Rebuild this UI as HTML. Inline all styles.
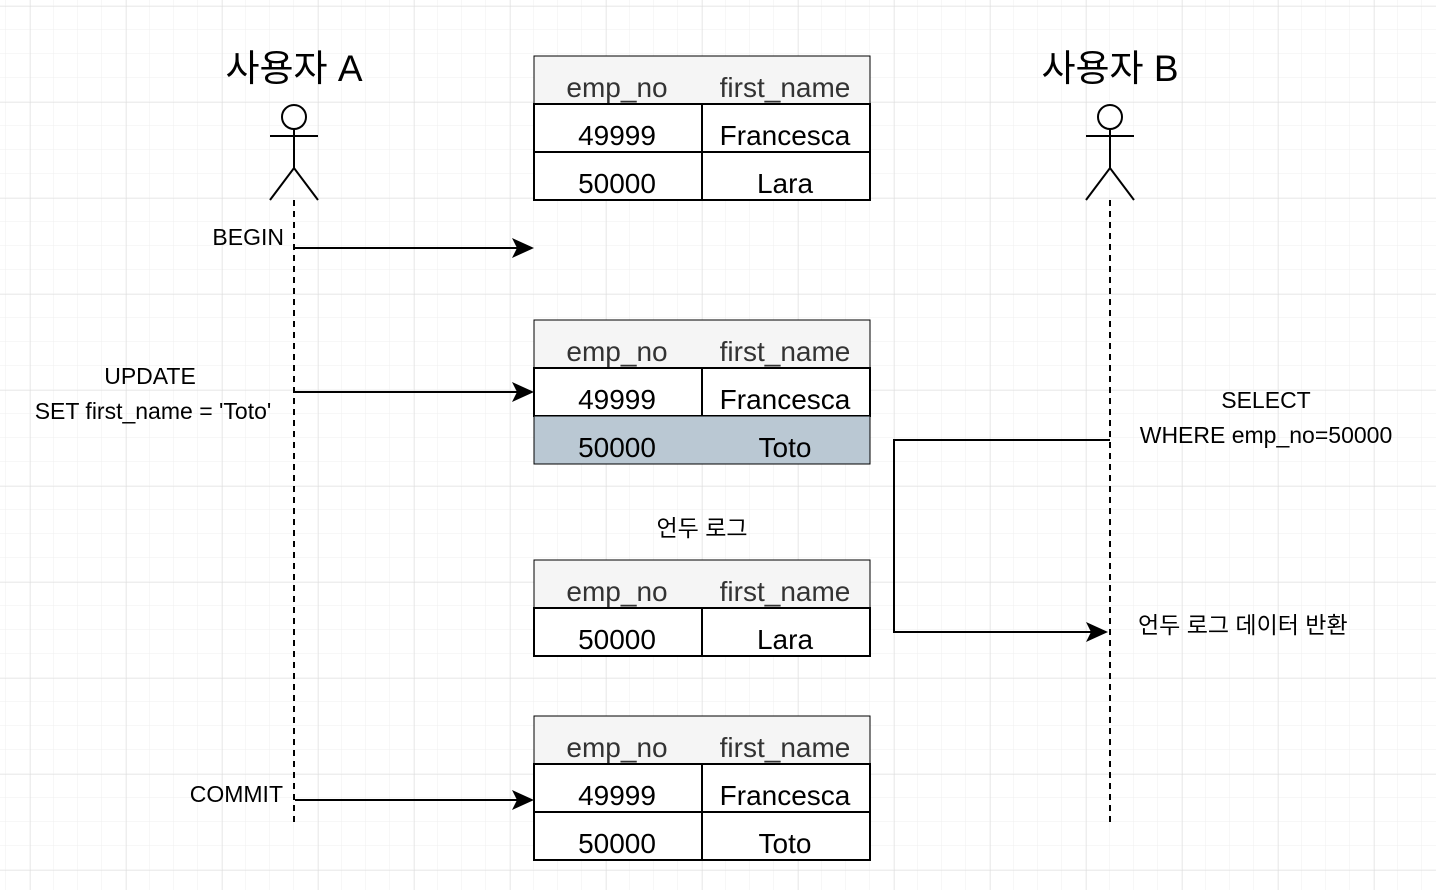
<!DOCTYPE html>
<html><head><meta charset="utf-8"><style>
body{margin:0;width:1436px;height:890px;overflow:hidden;background:#fff;}
svg text{font-family:"Liberation Sans","Noto Sans CJK KR",sans-serif;}
</style></head><body>
<svg width="1436" height="890" xmlns="http://www.w3.org/2000/svg">
<defs>
<pattern id="mn" width="24" height="24" patternUnits="userSpaceOnUse" x="6" y="6"><path d="M24 0V24M0 24H24" fill="none" stroke="#efefef" stroke-width="1"/></pattern>
<pattern id="mj" width="96" height="96" patternUnits="userSpaceOnUse" x="30" y="6"><path d="M0 0V96M0 0H96" fill="none" stroke="#dcdcdc" stroke-width="1"/></pattern>
</defs>
<rect width="1436" height="890" fill="url(#mn)"/>
<rect width="1436" height="890" fill="url(#mj)"/>

<g font-size="37" text-anchor="middle" fill="#000">
<text x="294" y="81">사용자 A</text>
<text x="1110" y="81">사용자 B</text>
</g>

<g stroke="#000" stroke-width="2" fill="#fff">
<circle cx="294" cy="117" r="12"/>
<path d="M294 129V168M270 136H318M270 200L294 168L318 200" fill="none"/>
<circle cx="1110" cy="117" r="12"/>
<path d="M1110 129V168M1086 136H1134M1086 200L1110 168L1134 200" fill="none"/>
<path d="M294 200V825M1110 200V825" stroke-dasharray="6 5" fill="none"/>
</g>

<g stroke="#000" stroke-width="2">
<rect x="534" y="56" width="336" height="48" fill="#f5f5f5" stroke-width="1"/>
<rect x="534" y="104" width="336" height="96" fill="#fff"/>
<path d="M534 152H870M702 104V200"/>
<rect x="534" y="320" width="336" height="48" fill="#f5f5f5" stroke-width="1"/>
<rect x="534" y="368" width="336" height="48" fill="#fff"/>
<rect x="534" y="416" width="336" height="48" fill="#bac8d3" stroke-width="1"/>
<path d="M702 368V416"/>
<rect x="534" y="560" width="336" height="48" fill="#f5f5f5" stroke-width="1"/>
<rect x="534" y="608" width="336" height="48" fill="#fff"/>
<path d="M702 608V656"/>
<rect x="534" y="716" width="336" height="48" fill="#f5f5f5" stroke-width="1"/>
<rect x="534" y="764" width="336" height="96" fill="#fff"/>
<path d="M534 812H870M702 764V860"/>
</g>
<g font-size="28" text-anchor="middle">
<g fill="#333">
<text x="617" y="97">emp_no</text><text x="785" y="97">first_name</text>
<text x="617" y="361">emp_no</text><text x="785" y="361">first_name</text>
<text x="617" y="601">emp_no</text><text x="785" y="601">first_name</text>
<text x="617" y="757">emp_no</text><text x="785" y="757">first_name</text>
</g>
<g fill="#000">
<text x="617" y="145">49999</text><text x="785" y="145">Francesca</text>
<text x="617" y="193">50000</text><text x="785" y="193">Lara</text>
<text x="617" y="409">49999</text><text x="785" y="409">Francesca</text>
<text x="617" y="457">50000</text><text x="785" y="457">Toto</text>
<text x="617" y="649">50000</text><text x="785" y="649">Lara</text>
<text x="617" y="805">49999</text><text x="785" y="805">Francesca</text>
<text x="617" y="853">50000</text><text x="785" y="853">Toto</text>
</g>
</g>

<g stroke="#000" stroke-width="2" fill="none">
<path d="M295 248H520"/>
<path d="M295 392H520"/>
<path d="M295 800H520"/>
<path d="M1110 440H894V632H1094"/>
</g>
<g fill="#000">
<path d="M534 248L512 238L517 248L512 258Z"/>
<path d="M534 392L512 382L517 392L512 402Z"/>
<path d="M534 800L512 790L517 800L512 810Z"/>
<path d="M1108 632L1086 622L1091 632L1086 642Z"/>
</g>

<g font-size="23" fill="#000">
<text x="284" y="245" text-anchor="end">BEGIN</text>
<text x="150" y="384" text-anchor="middle">UPDATE</text>
<text x="153" y="419" text-anchor="middle">SET first_name = 'Toto'</text>
<text x="283" y="802" text-anchor="end">COMMIT</text>
<text x="1266" y="408" text-anchor="middle">SELECT</text>
<text x="1266" y="443" text-anchor="middle">WHERE emp_no=50000</text>
<text x="702" y="536" text-anchor="middle">언두 로그</text>
<text x="1138" y="633">언두 로그 데이터 반환</text>
</g>
</svg>
</body></html>
